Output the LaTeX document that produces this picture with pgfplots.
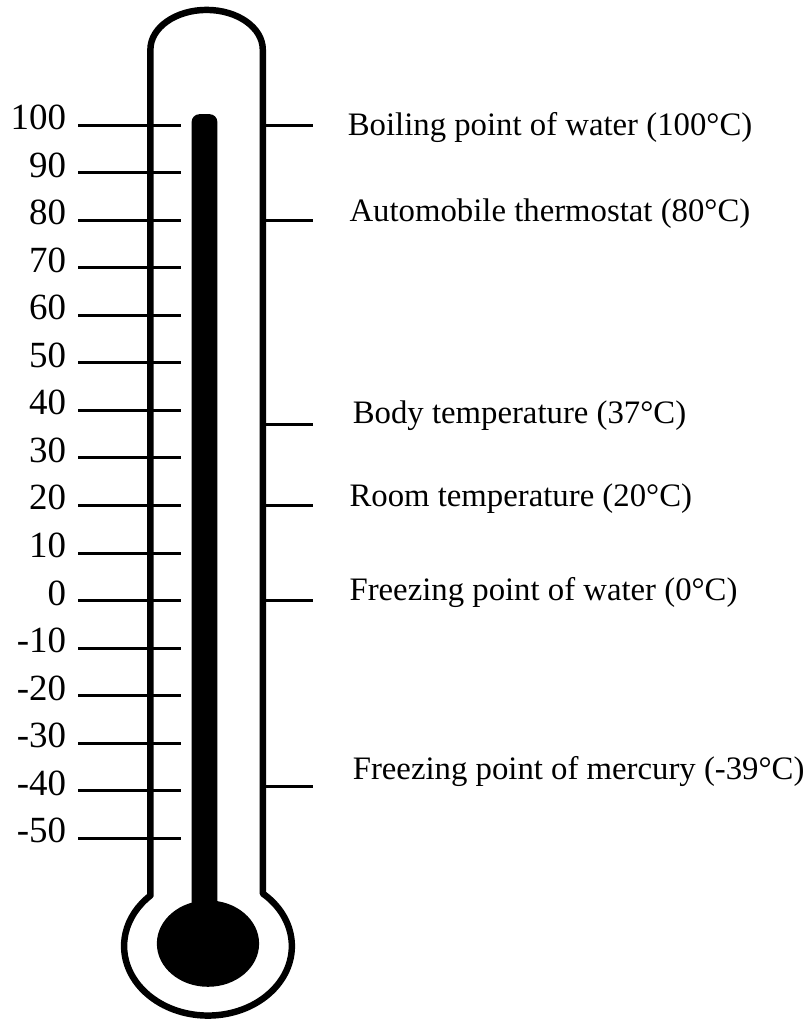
\documentclass[border=0pt]{standalone}
\usepackage{pgfplots}
\pgfplotsset{compat=1.18}
\usepackage{fontspec}
\setmainfont{Liberation Serif}
\begin{document}
\begin{tikzpicture}
\begin{axis}[
  scale only axis, width=404.5pt, height=513.5pt,
  xmin=0, xmax=809, ymin=-88.100, ymax=126.305,
  hide axis, clip=false,
]
% invisible frame for the bounding box
\addplot[draw=none] coordinates {(0,-88.100) (809,126.305)};
% mercury column
\addplot[fill=black, draw=none, rounded corners=4pt] coordinates {(193,-72) (193,102.3) (219,102.3) (219,-72)};
\fill (axis cs:209.5,-72.13) ellipse [x radius=25.75pt, y radius=21.75pt];
% thermometer outline
\draw[line width=3.25pt, line join=round]
  (axis cs:151.5,-62.0) -- (axis cs:151.5,115.87)
  arc[start angle=180, end angle=0, x radius=28.3pt, y radius=20pt]
  -- (axis cs:264.7,-61.59)
  arc[start angle=49.2, end angle=-226.7, x radius=42.25pt, y radius=35pt] -- cycle;
% left scale
\pgfplotsinvokeforeach{100,90,80,70,60,50,40,30,20,10,0,-10,-20,-30,-40,-50}{
  \addplot[black, line width=1.5pt] coordinates {(79,#1) (182,#1)};
  \node[anchor=base east, inner sep=0pt, font=\fontsize{18.6}{21}\selectfont, yshift=-2.25pt] at (axis cs:67,#1) {#1};
}
% right marks
\pgfplotsinvokeforeach{100,80,37,20,0,-39}{
  \addplot[black, line width=1.5pt] coordinates {(266,#1) (315,#1)};
}
\begin{scope}[every node/.style={anchor=base west, inner sep=0pt, font=\fontsize{16.5}{19}\selectfont}]
\node at (axis cs:350,97.77) {Boiling point of water (100°C)};
\node at (axis cs:351.7,79.69) {Automobile thermostat (80°C)};
\node at (axis cs:355,37.22) {Body temperature (37°C)};
\node at (axis cs:351.7,19.69) {Room temperature (20°C)};
\node at (axis cs:351.7,0) {Freezing point of water (0°C)};
\node at (axis cs:355,-37.58) {Freezing point of mercury (-39°C)};
\end{scope}
\end{axis}
\end{tikzpicture}
\end{document}
